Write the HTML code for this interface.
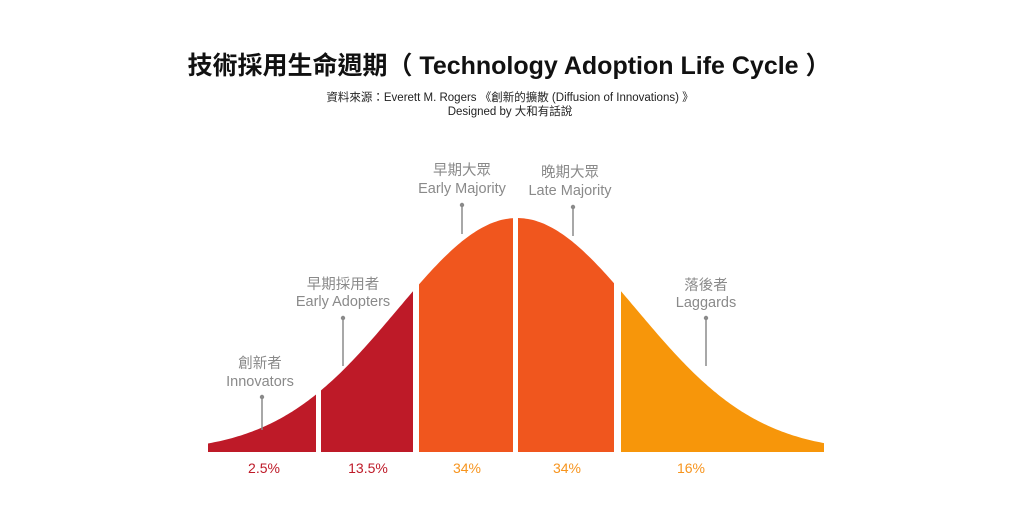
<!DOCTYPE html>
<html><head><meta charset="utf-8"><style>
html,body{margin:0;padding:0;background:#fff;width:1022px;height:527px;overflow:hidden}
svg text{font-family:"Liberation Sans","Noto Sans CJK TC",sans-serif}
</style></head><body>
<svg id="s" width="1022" height="527" viewBox="0 0 1022 527" xmlns="http://www.w3.org/2000/svg">
<defs><clipPath id="c"><path id="cp" d=""/></clipPath></defs>
<text x="509" y="74" text-anchor="middle" font-size="25" font-weight="bold" fill="#111">技術採用生命週期（ Technology Adoption Life Cycle ）</text>
<text x="510" y="101" text-anchor="middle" font-size="11.5" fill="#222">資料來源：Everett M. Rogers 《創新的擴散 (Diffusion of Innovations) 》</text>
<text x="510" y="115" text-anchor="middle" font-size="11.5" fill="#222">Designed by 大和有話說</text>
<g clip-path="url(#c)">
<rect x="205" y="200" width="111" height="252" fill="#be1a28"/>
<rect x="321" y="200" width="92" height="252" fill="#be1a28"/>
<rect x="419" y="200" width="94" height="252" fill="#f0561e"/>
<rect x="518" y="200" width="96" height="252" fill="#f0561e"/>
<rect x="621" y="200" width="205" height="252" fill="#f7960a"/>
</g>
<g fill="#8a8a8a" font-size="14.5" text-anchor="middle">
<text x="260" y="368">創新者</text><text x="260" y="386">Innovators</text>
<text x="343" y="289">早期採用者</text><text x="343" y="306">Early Adopters</text>
<text x="462" y="175">早期大眾</text><text x="462" y="193">Early Majority</text>
<text x="570" y="177">晚期大眾</text><text x="570" y="195">Late Majority</text>
<text x="706" y="290">落後者</text><text x="706" y="307">Laggards</text>
</g>
<g stroke="#8a8a8a" stroke-width="1.5">
<line x1="262" y1="397" x2="262" y2="430"/><line x1="343" y1="318" x2="343" y2="366"/>
<line x1="462" y1="205" x2="462" y2="234"/><line x1="573" y1="207" x2="573" y2="236"/>
<line x1="706" y1="318" x2="706" y2="366"/>
</g>
<g fill="#8a8a8a"><circle cx="262" cy="397" r="2.2"/><circle cx="343" cy="318" r="2.2"/><circle cx="462" cy="205" r="2.2"/><circle cx="573" cy="207" r="2.2"/><circle cx="706" cy="318" r="2.2"/></g>
<g font-size="14" text-anchor="middle">
<text x="264" y="473" fill="#be1a28">2.5%</text>
<text x="368" y="473" fill="#be1a28">13.5%</text>
<text x="467" y="473" fill="#f7941d">34%</text>
<text x="567" y="473" fill="#f7941d">34%</text>
<text x="691" y="473" fill="#f7941d">16%</text>
</g>
</svg>
<script>
var d="M208,452";
for(var x=208;x<=824;x+=2){var y=452-234*Math.exp(-Math.pow(x-517,2)/28800);d+=" L"+x+","+y.toFixed(1);}
d+=" L824,452 Z";
document.getElementById("cp").setAttribute("d",d);
</script>
</body></html>
